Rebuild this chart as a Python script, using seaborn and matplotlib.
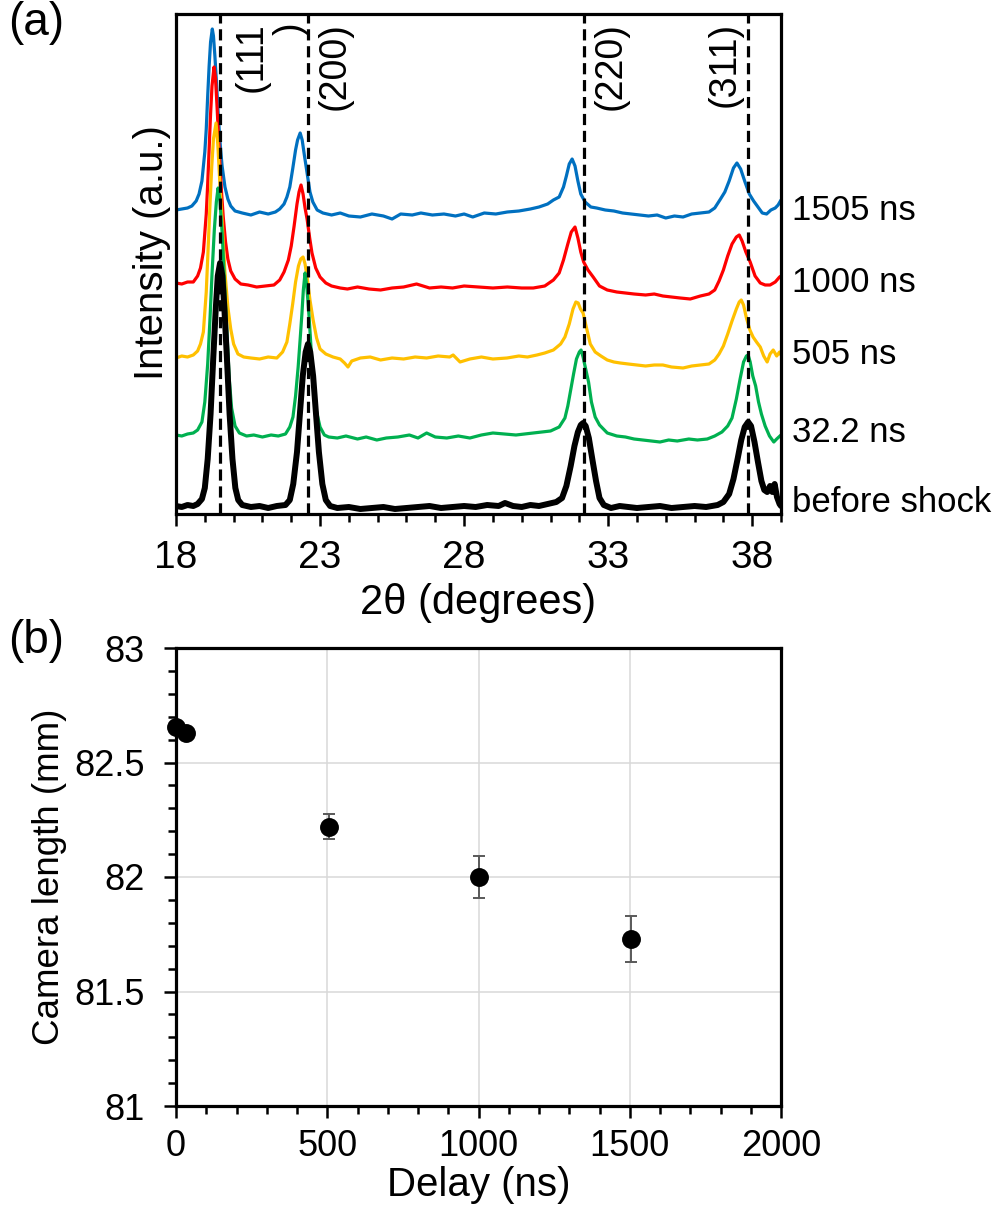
import numpy as np
import pandas as pd
import matplotlib
matplotlib.use("Agg")
import matplotlib.pyplot as plt
import seaborn as sns
from matplotlib.ticker import FixedLocator, MultipleLocator

sns.set_theme(style="white")
plt.rcParams["font.family"] = ["Liberation Sans", "DejaVu Sans"]
plt.rcParams["text.color"] = "black"
plt.rcParams["axes.labelcolor"] = "black"
plt.rcParams["xtick.color"] = "black"
plt.rcParams["ytick.color"] = "black"

# ---------------- Panel (a) data: XRD patterns (offset intensity, a.u.) ----------------
blue_x = [18.0, 18.2, 18.4, 18.55, 18.7, 18.8, 18.9, 19.0, 19.05, 19.1, 19.15, 19.2, 19.26, 19.3, 19.35,
          19.4, 19.45, 19.5, 19.55, 19.6, 19.7, 19.8, 19.9, 20.05, 20.3, 20.6, 20.9, 21.2, 21.45, 21.6,
          21.75, 21.85, 21.95, 22.05, 22.15, 22.22, 22.31, 22.38, 22.45, 22.55, 22.65, 22.75, 22.9, 23.1,
          23.4, 23.7, 24.0, 24.4, 24.8, 25.2, 25.5, 25.8, 26.2, 26.5, 26.9, 27.3, 27.7, 28.0, 28.3, 28.7,
          29.1, 29.5, 29.9, 30.3, 30.6, 30.9, 31.1, 31.3, 31.45, 31.55, 31.65, 31.75, 31.85, 31.95, 32.05,
          32.2, 32.4, 32.6, 32.9, 33.2, 33.5, 33.8, 34.1, 34.4, 34.7, 35.0, 35.3, 35.6, 35.9, 36.2, 36.5,
          36.7, 36.9, 37.05, 37.2, 37.35, 37.47, 37.6, 37.75, 37.9, 38.05, 38.2, 38.35, 38.5, 38.65, 38.8,
          38.9, 39.0]
blue_y = [304, 305, 306, 308, 313, 320, 333, 362, 385, 418, 448, 472, 485, 478, 458,
          434, 408, 384, 364, 348, 327, 315, 308, 303, 301, 299, 302, 300, 302, 305,
          310, 317, 327, 345, 364, 374, 381, 374, 360, 341, 322, 312, 304, 301,
          299, 301, 298, 297, 300, 298, 295, 300, 299, 301, 299, 300, 298, 300, 297, 301,
          300, 302, 303, 305, 307, 310, 314, 317, 327, 338, 350, 355, 348, 333, 320,
          312, 307, 306, 304, 303, 301, 300, 299, 298, 299, 296, 298, 297, 300, 301, 302,
          306, 315, 322, 333, 346, 351, 345, 332, 320, 313, 307, 301, 300, 304, 306,
          309, 314]

red_x = [18.0, 18.2, 18.4, 18.6, 18.75, 18.85, 18.95, 19.05, 19.1, 19.15, 19.2, 19.25, 19.32, 19.37, 19.42,
         19.47, 19.52, 19.58, 19.64, 19.72, 19.8, 19.9, 20.05, 20.25, 20.5, 20.8, 21.1, 21.4, 21.6, 21.75,
         21.9, 22.0, 22.1, 22.2, 22.27, 22.34, 22.41, 22.48, 22.55, 22.64, 22.72, 22.85, 23.0, 23.2, 23.4,
         23.7, 23.95, 24.3, 24.7, 25.1, 25.5, 25.9, 26.35, 26.8, 27.2, 27.6, 28.0, 28.5, 29.0, 29.5, 30.0,
         30.4, 30.8, 31.1, 31.3, 31.45, 31.6, 31.72, 31.85, 31.95, 32.05, 32.15, 32.3, 32.48, 32.7, 32.97,
         33.3, 33.6, 33.9, 34.3, 34.6, 34.9, 35.2, 35.5, 35.85, 36.2, 36.5, 36.7, 36.85, 37.0, 37.15, 37.3,
         37.45, 37.55, 37.65, 37.78, 37.93, 38.1, 38.28, 38.45, 38.62, 38.8, 38.95, 39.0]
red_y = [231, 230, 232, 232, 238, 246, 262, 300, 330, 365, 400, 428, 447, 436, 410,
         381, 352, 322, 297, 272, 255, 243, 235, 230, 229, 227, 228, 229, 234, 242,
         254, 268, 288, 310, 322, 329, 320, 306, 295, 276, 261, 246, 237, 231, 228,
         226, 225, 227, 225, 224, 226, 227, 230, 226, 227, 226, 228, 227, 226, 227, 226,
         226, 228, 234, 241, 254, 270, 282, 287, 276, 262, 252, 244, 237, 228, 224,
         222, 221, 220, 219, 220, 218, 217, 216, 215, 218, 220, 224, 233, 244, 258, 270,
         277, 279, 273, 262, 252, 238, 231, 229, 229, 232, 237, 238]

yellow_x = [18.0, 18.2, 18.4, 18.6, 18.75, 18.85, 18.95, 19.05, 19.11, 19.17, 19.24, 19.3, 19.39, 19.45, 19.53,
            19.6, 19.7, 19.8, 19.9, 20.0, 20.15, 20.35, 20.6, 20.9, 21.2, 21.5, 21.7, 21.85, 21.95, 22.05,
            22.15, 22.25, 22.33, 22.41, 22.48, 22.55, 22.65, 22.76, 22.88, 23.0, 23.2, 23.45, 23.7, 23.85,
            23.97, 24.1, 24.4, 24.74, 25.1, 25.5, 25.9, 26.3, 26.7, 27.1, 27.5, 27.62, 27.86, 28.2, 28.6,
            29.0, 29.49, 29.9, 30.2, 30.53, 30.8, 31.1, 31.35, 31.5, 31.65, 31.78, 31.88, 31.96, 32.04, 32.13,
            32.25, 32.38, 32.55, 32.75, 32.97, 33.2, 33.42, 33.7, 34.0, 34.3, 34.6, 34.9, 35.2, 35.6, 35.9,
            36.2, 36.5, 36.7, 36.85, 37.0, 37.15, 37.3, 37.45, 37.55, 37.62, 37.7, 37.8, 37.92, 38.03, 38.15,
            38.28, 38.4, 38.52, 38.62, 38.73, 38.85, 38.95, 39.0]
yellow_y = [156, 158, 157, 159, 163, 170, 182, 222, 262, 303, 347, 375, 391, 370, 327,
            293, 241, 207, 185, 170, 160, 157, 156, 155, 157, 156, 162, 172, 190, 210,
            232, 248, 255, 257, 250, 237, 214, 194, 176, 165, 160, 157, 155, 151,
            147, 153, 156, 157, 154, 156, 155, 157, 156, 158, 157, 159, 152, 155, 157,
            155, 156, 158, 157, 159, 161, 164, 170, 177, 190, 205, 212, 211, 205, 201,
            186, 170, 162, 158, 154, 152, 151, 150, 149, 148, 149, 149, 147, 146, 148,
            149, 150, 154, 160, 168, 180, 193, 205, 212, 214, 209, 196, 184, 177, 172,
            167, 158, 152, 160, 164, 158, 162, 159]

green_x = [18.0, 18.2, 18.4, 18.6, 18.75, 18.9, 19.0, 19.1, 19.18, 19.25, 19.33, 19.4, 19.46, 19.52, 19.6,
           19.68, 19.77, 19.85, 19.93, 20.05, 20.2, 20.45, 20.7, 21.0, 21.3, 21.55, 21.8, 21.95, 22.06, 22.15,
           22.24, 22.31, 22.37, 22.42, 22.48, 22.54, 22.62, 22.7, 22.76, 22.85, 23.0, 23.15, 23.3, 23.6, 23.9,
           24.3, 24.6, 24.97, 25.3, 25.7, 26.1, 26.4, 26.7, 27.0, 27.4, 27.8, 28.2, 28.6, 29.0, 29.4, 29.8,
           30.1, 30.4, 30.7, 31.0, 31.3, 31.5, 31.6, 31.7, 31.8, 31.9, 32.0, 32.06, 32.13, 32.22, 32.32,
           32.42, 32.55, 32.7, 32.97, 33.3, 33.6, 33.9, 34.2, 34.5, 34.8, 35.1, 35.4, 35.8, 36.1, 36.44,
           36.7, 36.95, 37.15, 37.3, 37.45, 37.58, 37.7, 37.8, 37.86, 37.93, 38.02, 38.12, 38.22, 38.32,
           38.45, 38.6, 38.75, 38.85, 39.0]
green_y = [79, 78, 80, 81, 84, 92, 112, 150, 195, 240, 284, 312, 326, 315, 282,
           234, 180, 135, 106, 88, 81, 78, 79, 77, 79, 78, 80, 87, 97, 118,
           147, 175, 200, 224, 241, 228, 197, 160, 133, 106, 87, 79, 77, 76, 78,
           75, 77, 74, 76, 77, 79, 76, 81, 77, 76, 78, 76, 79, 81, 80, 79,
           80, 81, 82, 83, 87, 96, 108, 124, 140, 155, 162, 164, 157, 145, 132,
           112, 97, 89, 81, 78, 77, 75, 74, 73, 72, 74, 73, 75, 74, 75,
           78, 82, 88, 96, 115, 135, 152, 158, 159, 152, 138, 128, 112, 100,
           88, 78, 72, 75, 79]

black_x = [18.0, 18.2, 18.4, 18.6, 18.75, 18.9, 19.0, 19.1, 19.2, 19.3, 19.38, 19.45, 19.53, 19.61, 19.68,
           19.76, 19.86, 19.96, 20.06, 20.16, 20.3, 20.6, 20.9, 21.2, 21.5, 21.8, 21.95, 22.07, 22.2, 22.3,
           22.4, 22.5, 22.58, 22.66, 22.76, 22.86, 22.96, 23.08, 23.2, 23.35, 23.6, 24.0, 24.4, 24.8, 25.2,
           25.6, 26.0, 26.4, 26.8, 27.2, 27.6, 28.0, 28.4, 28.8, 29.2, 29.42, 29.7, 30.0, 30.3, 30.6, 30.9,
           31.2, 31.4, 31.55, 31.7, 31.83, 31.95, 32.05, 32.13, 32.22, 32.33, 32.45, 32.58, 32.7, 32.85,
           33.1, 33.4, 33.7, 34.0, 34.4, 34.8, 35.2, 35.6, 36.0, 36.4, 36.8, 37.0, 37.2, 37.35, 37.5, 37.62,
           37.74, 37.86, 37.96, 38.08, 38.2, 38.32, 38.42, 38.52, 38.62, 38.7, 38.78, 38.86, 38.95, 39.0]
black_y = [8, 7, 9, 8, 10, 15, 26, 55, 100, 160, 205, 238, 251, 238, 205,
           160, 100, 55, 26, 14, 9, 7, 8, 6, 8, 9, 14, 30, 62, 100,
           138, 162, 170, 162, 138, 100, 62, 30, 14, 8, 6, 7, 5, 6, 7,
           5, 6, 7, 8, 6, 7, 8, 7, 9, 8, 11, 8, 7, 9, 8, 10,
           12, 16, 28, 48, 68, 82, 89, 91, 88, 76, 55, 33, 16, 9,
           6, 8, 7, 6, 7, 8, 6, 7, 8, 7, 9, 12, 20, 35, 56, 74,
           87, 92, 88, 72, 52, 33, 24, 22, 28, 22, 30, 17, 10, 8]

series_names = ["1505 ns", "1000 ns", "505 ns", "32.2 ns", "before shock"]
series_colors = ["#0070C0", "#FF0000", "#FFC000", "#00B050", "#000000"]
series_label_y = [304, 232, 159, 82, 12]

peak_positions = [19.53, 22.58, 32.17, 37.86]
peak_labels = ["(111\n)", "(200)", "(220)", "(311)"]
peak_label_x = [21.30, 23.52, 33.10, 37.03]

xrd_major_ticks = [18, 23, 28, 33, 38]
xrd_minor_ticks = list(range(18, 40))

# ---------------- Panel (b) data: camera length vs delay ----------------
delay_ns = [0, 32.2, 505, 1000, 1505]
camera_mm = [82.655, 82.63, 82.22, 82.00, 81.73]
camera_err = [0.01, 0.01, 0.053, 0.09, 0.10]

delay_ticks = [0, 500, 1000, 1500, 2000]
cam_ticks = [81, 81.5, 82, 82.5, 83]
cam_tick_labels = ["81", "81.5", "82", "82.5", "83"]

# ---------------- Figure ----------------
W, H = 1006, 1215
fig = plt.figure(figsize=(W / 100, H / 100), dpi=100)
fig.patch.set_facecolor("white")

ax1 = fig.add_axes([176 / W, 1 - 514 / H, 605 / W, 500 / H])
ax2 = fig.add_axes([176 / W, 1 - 1106 / H, 605 / W, 458 / H])

curves = [(blue_x, blue_y), (red_x, red_y), (yellow_x, yellow_y), (green_x, green_y), (black_x, black_y)]
for i, ((xs, ys), name, col) in enumerate(zip(curves, series_names, series_colors)):
    df = pd.DataFrame({"two_theta": xs, "intensity": ys})
    lw = 4.3 if name == "before shock" else 2.3
    sns.lineplot(data=df, x="two_theta", y="intensity", ax=ax1, color=col, lw=lw,
                 estimator=None, sort=False, legend=False, zorder=2 + i * 0.1)

for xp in peak_positions:
    ax1.axvline(xp, color="black", lw=2.3, dashes=(3.5, 1.8), zorder=5)

for lab, lx in zip(peak_labels, peak_label_x):
    ax1.text(lx, 492, lab, rotation=90, ha="center", va="top", fontsize=27,
             multialignment="right", linespacing=1.1, zorder=6)

for name, yl in zip(series_names, series_label_y):
    ax1.text(39.39, yl, name, ha="left", va="center", fontsize=25, clip_on=False)

ax1.set_xlim(18, 39)
ax1.set_ylim(0, 500)
ax1.xaxis.set_major_locator(FixedLocator(xrd_major_ticks))
ax1.xaxis.set_minor_locator(FixedLocator(xrd_minor_ticks))
ax1.set_xticklabels([str(t) for t in xrd_major_ticks])
ax1.set_yticks([])
ax1.tick_params(axis="x", which="major", direction="out", length=8.5, width=1.8,
                labelsize=28, pad=10, color="black", bottom=True)
ax1.tick_params(axis="x", which="minor", direction="out", length=5.5, width=1.8,
                color="black", bottom=True)
for sp in ax1.spines.values():
    sp.set_visible(True)
    sp.set_color("black")
    sp.set_linewidth(2.3)
ax1.set_xlabel("2θ (degrees)", fontsize=30)
ax1.xaxis.set_label_coords(0.5, -0.138)
ax1.set_ylabel("Intensity (a.u.)", fontsize=29)
ax1.yaxis.set_label_coords(-0.008, 0.522)

# Panel (b)
ax2.grid(True, which="major", color="#D9D9D9", lw=1.1)
ax2.set_axisbelow(True)
ax2.errorbar(delay_ns, camera_mm, yerr=camera_err, fmt="none", ecolor="#595959",
             elinewidth=1.4, capsize=4.3, capthick=1.4, zorder=3)
sns.scatterplot(x=delay_ns, y=camera_mm, ax=ax2, color="black", s=185,
                edgecolor="black", linewidth=0, zorder=4, clip_on=False, legend=False)
ax2.set_xlim(0, 2000)
ax2.set_ylim(81, 83)
ax2.xaxis.set_major_locator(FixedLocator(delay_ticks))
ax2.xaxis.set_minor_locator(MultipleLocator(100))
ax2.set_xticklabels([str(t) for t in delay_ticks])
ax2.yaxis.set_major_locator(FixedLocator(cam_ticks))
ax2.yaxis.set_minor_locator(MultipleLocator(0.1))
ax2.set_yticklabels(cam_tick_labels)
ax2.tick_params(axis="both", which="major", direction="out", length=8.5, width=1.8,
                labelsize=26, color="black", left=True, bottom=True)
ax2.tick_params(axis="both", which="minor", direction="out", length=5.5, width=1.8,
                color="black", left=True, bottom=True)
ax2.tick_params(axis="y", which="major", pad=14)
ax2.tick_params(axis="x", which="major", pad=8)
for sp in ax2.spines.values():
    sp.set_visible(True)
    sp.set_color("black")
    sp.set_linewidth(2.3)
ax2.set_xlabel("Delay (ns)", fontsize=29)
ax2.xaxis.set_label_coords(0.5, -0.13)
ax2.set_ylabel("Camera length (mm)", fontsize=26.5)
ax2.yaxis.set_label_coords(-0.18, 0.5)

fig.text(8 / W, 1 - 1 / H, "(a)", ha="left", va="top", fontsize=33)
fig.text(8 / W, 1 - 619 / H, "(b)", ha="left", va="top", fontsize=33)

fig.savefig("out.png", dpi=100, facecolor="white")
